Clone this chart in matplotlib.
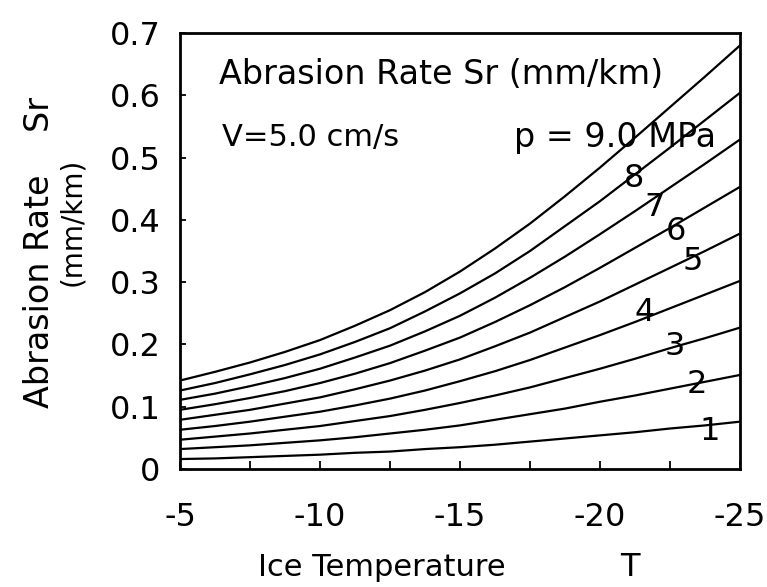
import matplotlib
matplotlib.use("Agg")
import matplotlib.pyplot as plt
from matplotlib.ticker import MultipleLocator, FuncFormatter

# Ice temperature (deg C) at which each curve is sampled
temperature = [-5, -6.25, -7.5, -8.75, -10, -11.25, -12.5, -13.75, -15,
               -16.25, -17.5, -18.75, -20, -21.25, -22.5, -23.75, -25]

# Abrasion rate Sr (mm/km), one list per curve, bottom to top
sr_1 = [0.016, 0.017, 0.019, 0.021, 0.023, 0.026, 0.028, 0.032, 0.035,
        0.039, 0.044, 0.049, 0.054, 0.059, 0.065, 0.070, 0.076]
sr_2 = [0.032, 0.035, 0.038, 0.042, 0.046, 0.051, 0.057, 0.063, 0.070,
        0.079, 0.088, 0.097, 0.108, 0.118, 0.129, 0.140, 0.151]
sr_3 = [0.047, 0.052, 0.057, 0.063, 0.069, 0.077, 0.085, 0.095, 0.106,
        0.118, 0.131, 0.146, 0.161, 0.177, 0.194, 0.210, 0.227]
sr_4 = [0.063, 0.069, 0.076, 0.084, 0.092, 0.102, 0.113, 0.126, 0.141,
        0.157, 0.175, 0.195, 0.215, 0.236, 0.258, 0.280, 0.302]
sr_5 = [0.079, 0.087, 0.095, 0.105, 0.115, 0.128, 0.142, 0.158, 0.176,
        0.197, 0.219, 0.244, 0.269, 0.296, 0.323, 0.350, 0.378]
sr_6 = [0.095, 0.104, 0.114, 0.125, 0.138, 0.153, 0.170, 0.190, 0.211,
        0.236, 0.263, 0.292, 0.323, 0.355, 0.387, 0.420, 0.453]
sr_7 = [0.111, 0.121, 0.133, 0.146, 0.161, 0.179, 0.198, 0.221, 0.246,
        0.275, 0.307, 0.341, 0.377, 0.414, 0.452, 0.490, 0.529]
sr_8 = [0.126, 0.138, 0.152, 0.167, 0.184, 0.204, 0.226, 0.253, 0.282,
        0.314, 0.350, 0.390, 0.430, 0.473, 0.516, 0.560, 0.604]
sr_9 = [0.142, 0.156, 0.171, 0.188, 0.207, 0.230, 0.255, 0.284, 0.317,
        0.354, 0.394, 0.438, 0.484, 0.532, 0.581, 0.630, 0.680]
curves = [sr_1, sr_2, sr_3, sr_4, sr_5, sr_6, sr_7, sr_8, sr_9]

# Curve numbers written next to the lines: (label, T, Sr)
curve_labels = [("1", -23.93, 0.060), ("2", -23.46, 0.136), ("3", -22.68, 0.197),
                ("4", -21.6, 0.252), ("5", -23.32, 0.333), ("6", -22.71, 0.381),
                ("7", -21.96, 0.420), ("8", -21.2, 0.466)]

x_ticks = [-5, -10, -15, -20, -25]
y_ticks = [0, 0.1, 0.2, 0.3, 0.4, 0.5, 0.6, 0.7]

plt.rcParams["font.family"] = ["DejaVu Sans"]

fig = plt.figure(figsize=(7.67, 5.87), dpi=100)
ax = fig.add_axes([180 / 767, 1 - 469 / 587, 560 / 767, 436 / 587])

for sr in curves:
    ax.plot(temperature, sr, color="black", lw=1.6, solid_capstyle="round",
            solid_joinstyle="round")

for text, t, v in curve_labels:
    ax.text(t, v, text, fontsize=23, ha="center", va="center", color="black")

ax.set_xlim(-5, -25)
ax.set_ylim(0, 0.7)
ax.set_xticks(x_ticks)
ax.xaxis.set_minor_locator(MultipleLocator(2.5))
ax.set_yticks(y_ticks)
ax.yaxis.set_major_formatter(FuncFormatter(lambda v, p: "0" if v == 0 else f"{v:.1f}"))
ax.xaxis.set_major_formatter(FuncFormatter(lambda v, p: f"{v:g}"))

ax.tick_params(axis="both", which="both", direction="in", width=1.3, colors="black")
ax.tick_params(axis="x", which="major", length=6, pad=24, labelsize=23)
ax.tick_params(axis="x", which="minor", length=6)
ax.tick_params(axis="y", which="major", length=4, pad=14, labelsize=23)
for s in ax.spines.values():
    s.set_linewidth(2.0)

ax.text(0.07, 0.905, "Abrasion Rate Sr (mm/km)", transform=ax.transAxes,
        fontsize=24, ha="left", va="center")
ax.text(0.075, 0.76, "V=5.0 cm/s", transform=ax.transAxes,
        fontsize=22, ha="left", va="center")
ax.text(0.597, 0.76, "p = 9.0 MPa", transform=ax.transAxes,
        fontsize=24, ha="left", va="center")

fig.text(40 / 767, 1 - 252 / 587, "Abrasion Rate    Sr", rotation=90,
         fontsize=24, ha="center", va="center")
fig.text(72 / 767, 1 - 222 / 587, "(mm/km)", rotation=90,
         fontsize=20, ha="center", va="center")
fig.text(382 / 767, 1 - 568 / 587, "Ice Temperature", fontsize=22,
         ha="center", va="center")
fig.text(630 / 767, 1 - 568 / 587, "T", fontsize=23, ha="center", va="center")

fig.savefig("out.png", dpi=100, facecolor="white")
